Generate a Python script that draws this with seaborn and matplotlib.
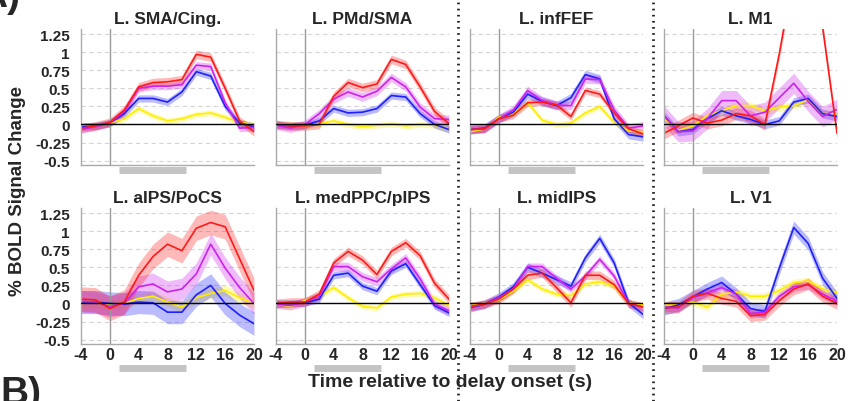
import matplotlib
matplotlib.use('Agg')
import matplotlib.pyplot as plt
import matplotlib.transforms as mtransforms
from matplotlib.lines import Line2D
import numpy as np
import pandas as pd
import seaborn as sns

# time points (s relative to delay onset)
times = [-4, -2, 0, 2, 4, 6, 8, 10, 12, 14, 16, 18, 20]
conditions = ['red', 'magenta', 'blue', 'yellow']
colors = {'red': '#ff1a1a', 'magenta': '#cc22ee', 'blue': '#1f1fff', 'yellow': '#ffee00'}
titles = ['L. SMA/Cing.', 'L. PMd/SMA', 'L. infFEF', 'L. M1',
          'L. aIPS/PoCS', 'L. medPPC/pIPS', 'L. midIPS', 'L. V1']

# mean % signal change, rows = red, magenta, blue, yellow
sma_cing = [[-0.05, -0.02, 0.03, 0.20, 0.52, 0.58, 0.59, 0.62, 0.97, 0.93, 0.50, 0.05, -0.10],
            [-0.07, -0.03, 0.02, 0.18, 0.50, 0.53, 0.53, 0.55, 0.82, 0.80, 0.30, -0.05, -0.04],
            [-0.03, -0.02, 0.02, 0.15, 0.36, 0.36, 0.31, 0.45, 0.73, 0.67, 0.25, 0.02, -0.03],
            [-0.02, -0.02, 0.02, 0.08, 0.22, 0.12, 0.05, 0.08, 0.14, 0.16, 0.10, 0.03, 0.00]]
pmd_sma = [[0.00, -0.02, -0.02, 0.00, 0.39, 0.58, 0.51, 0.56, 0.90, 0.83, 0.52, 0.18, 0.01],
           [-0.01, -0.05, 0.00, 0.15, 0.35, 0.45, 0.38, 0.46, 0.65, 0.52, 0.24, 0.08, 0.07],
           [0.00, -0.02, -0.01, 0.05, 0.22, 0.16, 0.17, 0.22, 0.40, 0.38, 0.15, 0.00, -0.07],
           [0.00, 0.00, -0.02, 0.01, 0.05, 0.00, -0.03, -0.01, 0.01, -0.02, 0.00, -0.01, -0.07]]
inf_fef = [[-0.07, -0.06, 0.08, 0.13, 0.30, 0.31, 0.27, 0.11, 0.47, 0.42, 0.16, -0.06, -0.13],
           [-0.07, -0.06, 0.08, 0.20, 0.47, 0.33, 0.27, 0.26, 0.63, 0.62, 0.20, -0.05, -0.02],
           [-0.07, -0.05, 0.08, 0.17, 0.42, 0.32, 0.26, 0.37, 0.69, 0.63, 0.08, -0.14, -0.17],
           [-0.10, -0.06, 0.10, 0.15, 0.30, 0.06, 0.00, 0.02, 0.16, 0.25, 0.03, -0.09, -0.10]]
m1 = [[-0.12, -0.02, 0.09, 0.02, 0.06, 0.15, 0.12, 0.00, 0.98, 2.10, 2.50, 1.35, -0.12],
      [0.12, -0.10, -0.09, 0.08, 0.33, 0.33, 0.12, 0.17, 0.37, 0.57, 0.32, 0.11, 0.21],
      [0.12, -0.10, -0.07, 0.08, 0.19, 0.12, 0.07, 0.00, 0.05, 0.31, 0.36, 0.15, 0.11],
      [0.08, -0.08, -0.02, 0.12, 0.19, 0.26, 0.26, 0.19, 0.24, 0.26, 0.34, 0.15, 0.15]]
aips_pocs = [[0.06, 0.05, -0.07, 0.02, 0.39, 0.65, 0.82, 0.73, 1.04, 1.12, 1.06, 0.62, 0.18],
             [0.03, 0.02, -0.04, 0.00, 0.23, 0.27, 0.16, 0.20, 0.41, 0.82, 0.49, 0.22, 0.00],
             [0.02, 0.02, 0.00, -0.01, 0.02, 0.01, -0.12, -0.12, 0.12, 0.25, 0.00, -0.16, -0.28],
             [0.00, 0.01, -0.02, 0.00, 0.07, 0.10, 0.02, -0.05, 0.08, 0.14, 0.18, 0.08, 0.00]]
medppc_pips = [[0.00, 0.02, 0.02, 0.13, 0.56, 0.72, 0.60, 0.40, 0.72, 0.84, 0.66, 0.28, 0.06],
               [-0.01, -0.03, 0.02, 0.10, 0.51, 0.51, 0.37, 0.30, 0.48, 0.63, 0.34, -0.01, -0.10],
               [0.00, 0.00, 0.01, 0.06, 0.39, 0.42, 0.24, 0.17, 0.45, 0.55, 0.26, -0.03, -0.13],
               [-0.01, -0.04, 0.04, 0.10, 0.22, 0.08, -0.04, -0.06, 0.09, 0.13, 0.14, 0.08, -0.03]]
mid_ips = [[-0.04, -0.01, 0.06, 0.20, 0.39, 0.42, 0.22, 0.01, 0.39, 0.39, 0.26, 0.00, -0.05],
           [-0.05, -0.01, 0.08, 0.20, 0.51, 0.51, 0.35, 0.20, 0.38, 0.61, 0.38, 0.00, -0.05],
           [-0.06, -0.01, 0.09, 0.23, 0.50, 0.42, 0.33, 0.24, 0.63, 0.90, 0.56, 0.01, -0.15],
           [-0.03, 0.00, 0.05, 0.17, 0.33, 0.20, 0.13, 0.11, 0.27, 0.30, 0.24, 0.01, -0.02]]
v1 = [[-0.06, -0.05, 0.10, 0.14, 0.07, 0.03, -0.17, -0.15, 0.04, 0.20, 0.27, 0.10, 0.00],
      [-0.05, -0.06, 0.08, 0.15, 0.22, 0.13, -0.14, -0.12, 0.10, 0.23, 0.26, 0.13, 0.03],
      [-0.07, -0.02, 0.09, 0.20, 0.29, 0.13, -0.07, -0.11, 0.49, 1.05, 0.83, 0.35, 0.07],
      [-0.02, -0.02, 0.02, -0.05, 0.13, 0.16, 0.10, 0.10, 0.18, 0.29, 0.31, 0.20, 0.15]]

# approximate standard error per condition (red, magenta, blue, yellow)
sem_values = [[0.06, 0.05, 0.05, 0.04],
              [0.06, 0.06, 0.05, 0.04],
              [0.05, 0.06, 0.06, 0.04],
              [0.08, 0.14, 0.06, 0.05],
              [0.17, 0.15, 0.16, 0.07],
              [0.06, 0.06, 0.05, 0.04],
              [0.06, 0.05, 0.06, 0.04],
              [0.08, 0.06, 0.09, 0.05]]

region_data = [sma_cing, pmd_sma, inf_fef, m1, aips_pocs, medppc_pips, mid_ips, v1]
delay_start, delay_end = 1.25, 10.5

rows = []
for title, data, sems in zip(titles, region_data, sem_values):
    for cond, vals, s in zip(conditions, data, sems):
        for t, v in zip(times, vals):
            rows.append({'region': title, 'cond': cond, 'time': t, 'value': v, 'err': s})
df = pd.DataFrame(rows)

sns.set_style('white')
plt.rcParams['font.family'] = ['Liberation Sans', 'DejaVu Sans']
plt.rcParams['font.weight'] = 'bold'

fig = plt.figure(figsize=(8.51, 4.02), dpi=100)
W, H = 851.0, 402.0
col_left = [81, 276, 470, 664]
row_top = [30, 209]
aw, ah = 173, 136

draw_order = ['yellow', 'blue', 'magenta', 'red']
for i, title in enumerate(titles):
    r, c = divmod(i, 4)
    ax = fig.add_axes([col_left[c] / W, 1 - (row_top[r] + ah) / H, aw / W, ah / H])
    sub = df[df['region'] == title]
    for cond in draw_order:
        d = sub[sub['cond'] == cond]
        ax.fill_between(d['time'], d['value'] - d['err'], d['value'] + d['err'],
                        color=colors[cond], alpha=0.3, lw=0)
    for cond in draw_order:
        d = sub[sub['cond'] == cond]
        sns.lineplot(data=d, x='time', y='value', color=colors[cond], lw=1.2,
                     errorbar=None, ax=ax, legend=False)
    ax.axhline(0, color='black', lw=1, zorder=5)
    ax.axvline(0, color='#999999', lw=1, zorder=1)
    ax.set_xlim(-4, 20)
    ax.set_ylim(-0.56, 1.32)
    yt = [-0.5, -0.25, 0, 0.25, 0.5, 0.75, 1, 1.25]
    ax.set_yticks(yt)
    ax.set_xticks(times)
    if c == 0:
        ax.set_yticklabels(['-0.5', '-0.25', '0', '0.25', '0.5', '0.75', '1', '1.25'],
                           fontsize=11, fontweight='bold')
    else:
        ax.set_yticklabels([])
    if r == 1:
        ax.set_xticklabels([str(t) if t % 4 == 0 else '' for t in times],
                           fontsize=11.5, fontweight='bold')
    else:
        ax.set_xticklabels([])
    ax.tick_params(axis='both', direction='in', length=3, color='#999999', width=0.8)
    ax.tick_params(axis='y', pad=8)
    ax.tick_params(axis='x', pad=2)
    ax.yaxis.grid(True, ls=(0, (4, 3)), color='#d4d4d4', lw=0.8)
    ax.xaxis.grid(False)
    for sp in ['top', 'right']:
        ax.spines[sp].set_visible(False)
    for sp in ['left', 'bottom']:
        ax.spines[sp].set_color('#aaaaaa')
        ax.spines[sp].set_linewidth(1)
    ax.set_xlabel('')
    ax.set_ylabel('')
    ax.set_title(title, fontsize=12.5, fontweight='bold', pad=4)
    # delay period bar
    trans = mtransforms.blended_transform_factory(ax.transData, ax.transAxes)
    bar_y = -0.04 if r == 0 else -0.175
    ax.plot([delay_start, delay_end], [bar_y, bar_y], color='#c4c4c4', lw=5,
            solid_capstyle='butt', transform=trans, clip_on=False)

# dotted separators between column groups
for xp in [458, 653]:
    fig.add_artist(Line2D([xp / W, xp / W], [0.0, 1.0], color='#222222', lw=2,
                          ls=(0, (0.6, 1.6)), transform=fig.transFigure))

fig.text(0.021, 0.525, '% BOLD Signal Change', rotation=90, ha='center', va='center',
         fontsize=13.5, fontweight='bold')
fig.text(450 / W, 1 - 383 / H, 'Time relative to delay onset (s)', ha='center', va='center',
         fontsize=14, fontweight='bold')
fig.text(0.0, 1 - 376 / H, 'B)', ha='left', va='top', fontsize=28, fontweight='bold')
fig.text(-0.025, 1 - 7 / H, 'A)', ha='left', va='baseline', fontsize=28, fontweight='bold')

fig.savefig('out.png', dpi=100)
